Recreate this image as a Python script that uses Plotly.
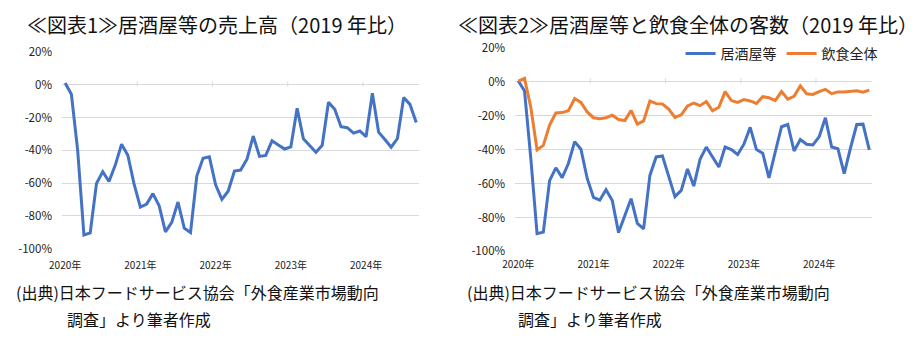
import plotly.graph_objects as go

# ---- data (percent vs 2019) ----
months = list(range(57))  # Jan 2020 .. Sep 2024
year_labels = ["2020年", "2021年", "2022年", "2023年", "2024年"]
year_tick_idx = [0, 12, 24, 36, 48]

sales_izakaya = [1, -5.8, -40, -91.6, -90.3, -60.2, -53, -59, -49, -36.3,
                 -43, -60.6, -74.6, -72.8, -66.4, -73.8, -89.7, -83.9, -71.5, -87.4,
                 -90.1, -55.7, -44.9, -43.9, -61, -69.9, -64.9, -52.6, -52, -45.4,
                 -31.3, -43.7, -43.1, -34.2, -36.7, -39.2, -37.9, -14.4, -33, -37.3,
                 -41.2, -36.9, -10.7, -15, -25.6, -26.2, -29.5, -28.2, -31.7, -5.2,
                 -28.9, -33.4, -38.1, -32.8, -7.8, -12, -23.1]

cust_izakaya = [0.6, -5.4, -45, -89.5, -88.6, -58.3, -50.7, -56.5, -48.2, -35.3,
                -39.8, -57, -68.1, -69.8, -63.6, -70, -88.9, -79.2, -68.9, -83.5,
                -86.7, -55.2, -44.3, -43.7, -55.7, -67.7, -64, -51.4, -61.5, -45.7,
                -38.5, -44, -50.2, -38.5, -40, -42.9, -36.8, -26.9, -40, -42.1,
                -56.6, -41.4, -26.5, -25.2, -40.8, -34, -36.8, -37.2, -32.5, -21.2,
                -38.5, -39.5, -54.1, -39.1, -25.2, -25, -40.2]

cust_all = [0.4, 2, -15, -40.1, -37.5, -25.5, -18.4, -18.2, -17.1, -9.9,
            -12.2, -17.8, -21.2, -21.8, -21.2, -19.7, -22.3, -22.9, -16.9, -25,
            -23.1, -11.4, -12.9, -13.1, -16.1, -21, -19.5, -14.3, -12.6, -14.1,
            -11.7, -17.1, -15, -5.8, -11.1, -12.2, -10.5, -11.3, -12.8, -8.8,
            -9.4, -11.1, -5.8, -10.3, -8.6, -2.4, -7.1, -7.5, -5.8, -4.5,
            -7, -6, -6, -5.6, -5.3, -6.2, -4.9]

y_ticks = [20, 0, -20, -40, -60, -80, -100]
y_tick_text = ["20%", "0%", "-20%", "-40%", "-60%", "-80%", "-100%"]

BLUE = "#4472C4"
ORANGE = "#ED7D31"
GRID = "#d9d9d9"
FONT = "Noto Sans CJK JP"
W, H = 922, 343

fig = go.Figure()
fig.add_trace(go.Scatter(x=months, y=sales_izakaya, mode="lines", line=dict(color=BLUE, width=3),
                         showlegend=False, xaxis="x", yaxis="y"))
fig.add_trace(go.Scatter(x=months, y=cust_izakaya, mode="lines", line=dict(color=BLUE, width=3),
                         name="居酒屋等", xaxis="x2", yaxis="y2"))
fig.add_trace(go.Scatter(x=months, y=cust_all, mode="lines", line=dict(color=ORANGE, width=3),
                         name="飲食全体", xaxis="x2", yaxis="y2"))

def px_x(p):
    return p / W

def px_y(p):
    return 1 - p / H

xcommon = dict(range=[-0.5, len(months) - 0.5], tickmode="array", tickvals=year_tick_idx,
               ticktext=year_labels, showgrid=False, zeroline=False, showline=False,
               ticks="", tickfont=dict(family=FONT, size=10, color="#222"), fixedrange=True)
ycommon = dict(range=[-100, 20], tickmode="array", tickvals=y_ticks, ticktext=y_tick_text,
               showgrid=True, gridcolor=GRID, gridwidth=1, zeroline=False, showline=False,
               ticks="", tickfont=dict(family=FONT, size=11.5, color="#222"), fixedrange=True)

fig.update_layout(
    width=W, height=H, margin=dict(l=0, r=0, t=0, b=0),
    paper_bgcolor="white", plot_bgcolor="white",
    xaxis=dict(domain=[px_x(49.7), px_x(412.2)], anchor="y", ticklabelstandoff=9, **xcommon),
    yaxis=dict(domain=[px_y(251.5), px_y(45)], anchor="x", ticklabelstandoff=9, **ycommon),
    xaxis2=dict(domain=[px_x(509.3), px_x(871.7)], anchor="y2", ticklabelstandoff=6, **xcommon),
    yaxis2=dict(domain=[px_y(254.3), px_y(40.7)], anchor="x2", ticklabelstandoff=9, **ycommon),
    legend=dict(orientation="h", x=px_x(882), xanchor="right", y=px_y(47), yanchor="middle",
                font=dict(family=FONT, size=14, color="#222"), bgcolor="rgba(0,0,0,0)",
                itemwidth=30, tracegroupgap=0),
    showlegend=True,
)

# year-boundary tick marks on the 0% axis line
boundaries = [i - 0.5 for i in year_tick_idx[1:]]
shapes = []
for xr, yr in (("x", "y"), ("x2", "y2")):
    for b in boundaries:
        shapes.append(dict(type="line", xref=xr, yref=yr, x0=b, x1=b, y0=2, y1=-1,
                           line=dict(color=GRID, width=1)))
fig.update_layout(shapes=shapes)

title_font = dict(family=FONT, size=20, color="#111")
src_font = dict(family=FONT, size=16, color="#111")
annotations = [
    dict(text="≪図表1≫居酒屋等の売上高（2019 年比）", x=px_x(12), y=px_y(16)),
    dict(text="≪図表2≫居酒屋等と飲食全体の客数（2019 年比）", x=px_x(449), y=px_y(16)),
]
for a in annotations:
    a.update(xref="paper", yref="paper", xanchor="left", yanchor="middle", showarrow=False, font=title_font)
src = [
    dict(text="(出典)日本フードサービス協会「外食産業市場動向", x=px_x(1), y=px_y(297)),
    dict(text="調査」より筆者作成", x=px_x(53), y=px_y(325)),
    dict(text="(出典)日本フードサービス協会「外食産業市場動向", x=px_x(458), y=px_y(297)),
    dict(text="調査」より筆者作成", x=px_x(510), y=px_y(325)),
]
for a in src:
    a.update(xref="paper", yref="paper", xanchor="left", yanchor="middle", showarrow=False, font=src_font)
fig.update_layout(annotations=annotations + src)

fig.write_html("out.html")
